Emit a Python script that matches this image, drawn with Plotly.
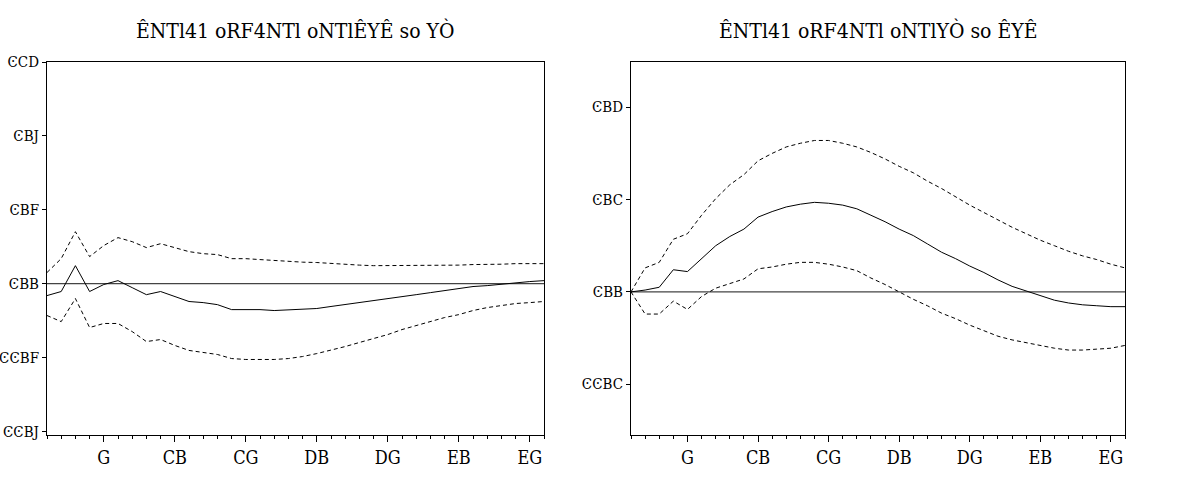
import plotly.graph_objects as go

periods = list(range(1, 37))

left_resp = [-0.0065, -0.0043, 0.0097, -0.0043, -0.0005, 0.0016, -0.0022, -0.0060, -0.0043, -0.0070,
             -0.0097, -0.0103, -0.0114, -0.0141, -0.0141, -0.0141, -0.0146, -0.0143, -0.0141, -0.0135,
             -0.0124, -0.0114, -0.0103, -0.0092, -0.0081, -0.0070, -0.0060, -0.0049, -0.0038, -0.0027,
             -0.0016, -0.0011, -0.0003, 0.0005, 0.0011, 0.0016]
left_upper = [0.0060, 0.0135, 0.0281, 0.0146, 0.0206, 0.0249, 0.0227, 0.0195, 0.0216, 0.0195,
              0.0173, 0.0162, 0.0157, 0.0135, 0.0135, 0.0130, 0.0124, 0.0119, 0.0116, 0.0114,
              0.0108, 0.0103, 0.0100, 0.0097, 0.0097, 0.0097, 0.0097, 0.0097, 0.0097, 0.0100,
              0.0103, 0.0103, 0.0105, 0.0108, 0.0108, 0.0108]
left_lower = [-0.0173, -0.0206, -0.0081, -0.0238, -0.0216, -0.0216, -0.0260, -0.0314, -0.0303, -0.0335,
              -0.0362, -0.0373, -0.0384, -0.0406, -0.0411, -0.0411, -0.0411, -0.0406, -0.0395, -0.0379,
              -0.0362, -0.0341, -0.0319, -0.0298, -0.0276, -0.0249, -0.0227, -0.0206, -0.0184, -0.0168,
              -0.0146, -0.0130, -0.0119, -0.0108, -0.0103, -0.0097]

right_resp = [0.0, 0.0002, 0.0005, 0.0024, 0.0022, 0.0036, 0.0050, 0.0060, 0.0068, 0.0081,
              0.0087, 0.0092, 0.0095, 0.0097, 0.0096, 0.0094, 0.0090, 0.0083, 0.0076, 0.0068,
              0.0061, 0.0052, 0.0043, 0.0036, 0.0028, 0.0021, 0.0013, 0.0006, 0.0001, -0.0004,
              -0.0009, -0.0012, -0.0014, -0.0015, -0.0016, -0.0016]
right_upper = [0.0, 0.0026, 0.0032, 0.0057, 0.0063, 0.0083, 0.0101, 0.0116, 0.0127, 0.0142,
               0.0150, 0.0157, 0.0161, 0.0164, 0.0164, 0.0161, 0.0157, 0.0151, 0.0144, 0.0136,
               0.0129, 0.0120, 0.0112, 0.0103, 0.0094, 0.0086, 0.0078, 0.0070, 0.0063, 0.0056,
               0.0050, 0.0044, 0.0039, 0.0035, 0.0030, 0.0026]
right_lower = [0.0, -0.0024, -0.0024, -0.0010, -0.0019, -0.0005, 0.0004, 0.0009, 0.0014, 0.0025,
               0.0027, 0.0030, 0.0032, 0.0032, 0.0030, 0.0027, 0.0023, 0.0015, 0.0008, 0.0,
               -0.0008, -0.0015, -0.0023, -0.0029, -0.0036, -0.0042, -0.0048, -0.0052, -0.0055, -0.0058,
               -0.0061, -0.0063, -0.0063, -0.0062, -0.0061, -0.0058]

x_tickvals = [5, 10, 15, 20, 25, 30, 35]
x_ticktext = ["G", "CB", "CG", "DB", "DG", "EB", "EG"]
left_ytickvals = [0.12, 0.08, 0.04, 0.0, -0.04, -0.08]
left_yticktext = ["ϾCD", "ϾBJ", "ϾBF", "ϾBB", "ϾϾBF", "ϾϾBJ"]
right_ytickvals = [0.02, 0.01, 0.0, -0.01]
right_yticktext = ["ϾBD", "ϾBC", "ϾBB", "ϾϾBC"]
titles = ["ÊNTl41 oRF4NTl oNTlÊYÊ so YÒ", "ÊNTl41 oRF4NTl oNTlYÒ so ÊYÊ"]

FONT = "DejaVu Serif Condensed, Liberation Serif, serif"
fig = go.Figure()

panels = [
    ("x", "y", left_resp, left_upper, left_lower),
    ("x2", "y2", right_resp, right_upper, right_lower),
]
for xa, ya, resp, up, lo in panels:
    fig.add_trace(go.Scatter(x=periods, y=[0] * len(periods), xaxis=xa, yaxis=ya, mode="lines",
                             line=dict(color="#444444", width=1.2), hoverinfo="skip"))
    fig.add_trace(go.Scatter(x=periods, y=up, xaxis=xa, yaxis=ya, mode="lines",
                             line=dict(color="black", width=1, dash="4px,3px")))
    fig.add_trace(go.Scatter(x=periods, y=lo, xaxis=xa, yaxis=ya, mode="lines",
                             line=dict(color="black", width=1, dash="4px,3px")))
    fig.add_trace(go.Scatter(x=periods, y=resp, xaxis=xa, yaxis=ya, mode="lines",
                             line=dict(color="black", width=1)))

xcommon = dict(range=[1, 36], tickvals=x_tickvals, ticktext=x_ticktext, ticks="outside", ticklen=6,
               tickcolor="black", showline=True, linecolor="black", linewidth=1, mirror=True,
               showgrid=False, zeroline=False, automargin=False,
               minor=dict(dtick=1, tick0=0, ticks="outside", ticklen=3, tickcolor="black"),
               tickfont=dict(family=FONT, size=18, color="black"))
ycommon = dict(ticks="outside", ticklen=4, tickcolor="black", showline=True, linecolor="black",
               linewidth=1, mirror=True, showgrid=False, zeroline=False, automargin=False,
               ticklabelstandoff=0,
               tickfont=dict(family=FONT, size=15, color="black"))

fig.update_layout(
    width=1179, height=478, margin=dict(l=0, r=0, t=0, b=0, autoexpand=False),
    paper_bgcolor="white", plot_bgcolor="white", showlegend=False,
    xaxis=dict(domain=[47 / 1179, 544 / 1179], anchor="y", **xcommon),
    yaxis=dict(domain=[1 - 435 / 478, 1 - 62 / 478], anchor="x", range=[-0.082, 0.12],
               tickvals=left_ytickvals, ticktext=left_yticktext, **ycommon),
    xaxis2=dict(domain=[631 / 1179, 1125 / 1179], anchor="y2", **xcommon),
    yaxis2=dict(domain=[1 - 435 / 478, 1 - 62 / 478], anchor="x2", range=[-0.0155, 0.0249],
                tickvals=right_ytickvals, ticktext=right_yticktext, **ycommon),
    annotations=[
        dict(text=titles[0], x=295 / 1179, y=1 - 30 / 478, xref="paper", yref="paper",
             xanchor="center", yanchor="middle",
             showarrow=False, font=dict(family=FONT, size=21, color="black")),
        dict(text=titles[1], x=878 / 1179, y=1 - 30 / 478, xref="paper", yref="paper",
             xanchor="center", yanchor="middle",
             showarrow=False, font=dict(family=FONT, size=21, color="black")),
    ],
)

fig.write_html("out.html")
